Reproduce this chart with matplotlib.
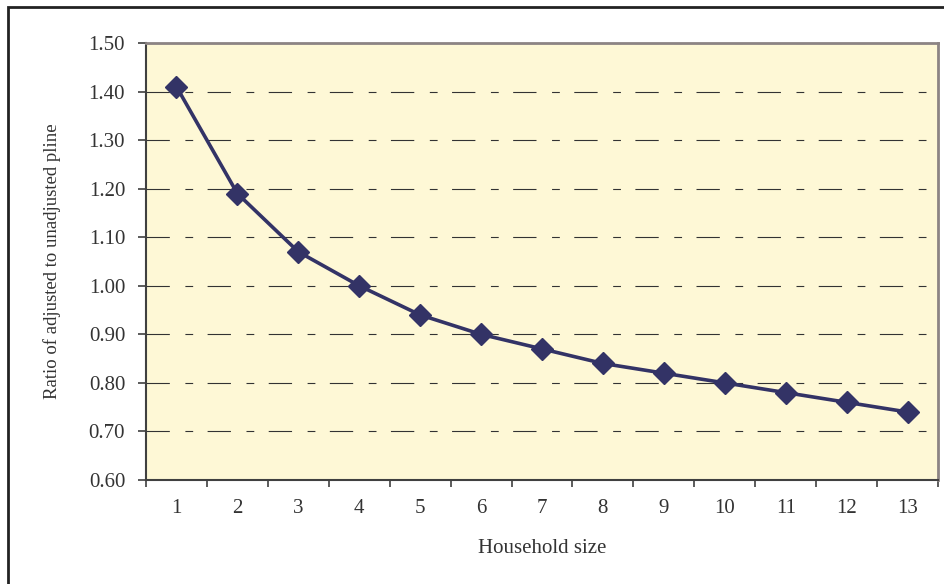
import matplotlib.pyplot as plt
from matplotlib.patches import Rectangle
import numpy as np

household_size = [1, 2, 3, 4, 5, 6, 7, 8, 9, 10, 11, 12, 13]
ratio = [1.41, 1.19, 1.07, 1.00, 0.94, 0.90, 0.87, 0.84, 0.82, 0.80, 0.78, 0.76, 0.74]
y_ticks = [0.60, 0.70, 0.80, 0.90, 1.00, 1.10, 1.20, 1.30, 1.40, 1.50]

plt.rcParams['font.family'] = ['Liberation Serif', 'DejaVu Serif']

fig = plt.figure(figsize=(9.44, 5.84), dpi=100)
ax = fig.add_axes([146 / 944, 1 - 480 / 584, (938 - 146) / 944, (480 - 43) / 584])
ax.set_facecolor('#FEF8D6')

x = np.arange(len(household_size)) + 1
ax.plot(x, ratio, color='#333366', lw=2.6, marker='D', ms=11, zorder=3)

ax.set_xlim(0.5, len(household_size) + 0.5)
ax.set_ylim(0.60, 1.50)

# category axis: ticks on the boundaries, labels in the middle
ax.set_xticks(np.arange(len(household_size) + 1) + 0.5)
ax.set_xticklabels([])
ax.set_xticks(x, minor=True)
ax.set_xticklabels([str(h) for h in household_size], minor=True)
ax.tick_params(axis='x', which='major', direction='out', length=5, width=1.2, color='#404040')
ax.tick_params(axis='x', which='minor', length=0, pad=14, labelsize=15, labelcolor='#333333')

ax.set_yticks(y_ticks)
ax.set_yticklabels(['%.2f' % v for v in y_ticks])
ax.tick_params(axis='y', direction='out', length=6, width=1.2, color='#404040',
               pad=9, labelsize=15, labelcolor='#333333')

ax.yaxis.grid(True, color='#333333', lw=0.8, linestyle=(0, (21, 14, 7, 13)))

for s in ['top', 'right']:
  ax.spines[s].set_color('#8c8484')
  ax.spines[s].set_linewidth(2)
for s in ['left', 'bottom']:
  ax.spines[s].set_color('#404040')
  ax.spines[s].set_linewidth(1.5)

ax.set_xlabel('Household size', fontsize=15, color='#333333', labelpad=15)
ax.set_ylabel('Ratio of adjusted to unadjusted pline', fontsize=13.5, color='#333333', labelpad=20)

# outer chart frame
fig.patches.append(Rectangle((8 / 944, -0.1), 1.2, 1.1 - 7 / 584, transform=fig.transFigure,
                             fill=False, edgecolor='#222222', lw=2))

fig.savefig('out.png', dpi=100)
